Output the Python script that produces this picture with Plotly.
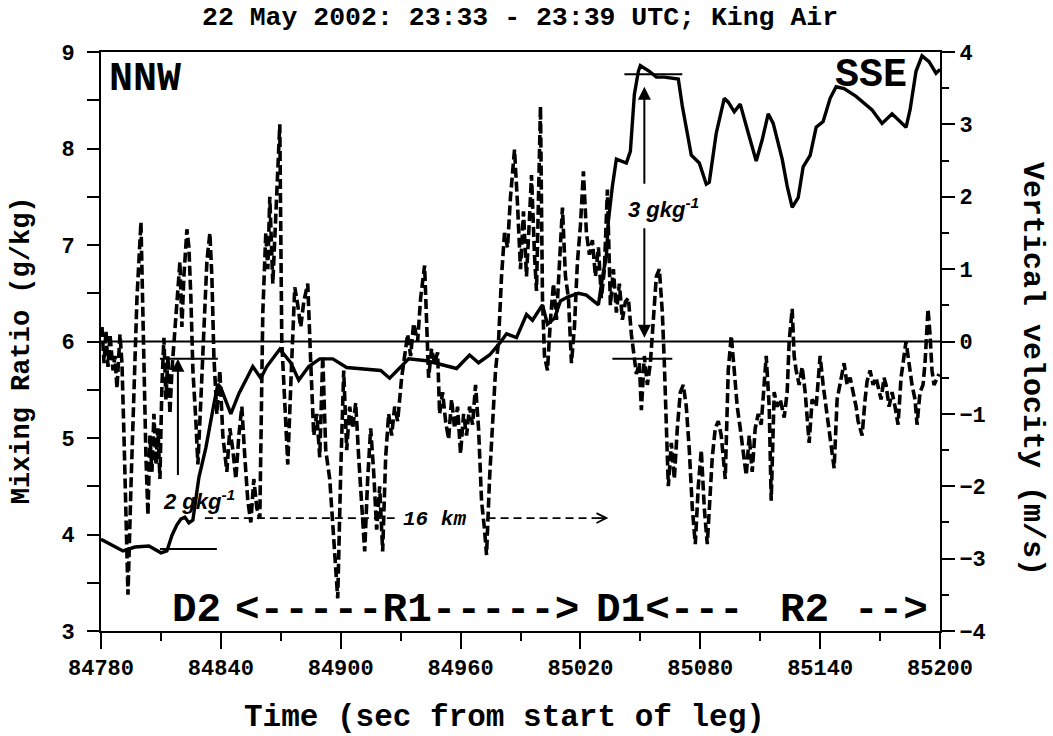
import plotly.graph_objects as go

# Mixing ratio (g/kg), solid line, left axis
time_mr = [84780, 84786, 84791, 84797, 84804, 84810, 84813, 84815.5, 84818, 84820,
           84822, 84824, 84826, 84829, 84832.5, 84836.5, 84838.5, 84840, 84845, 84849,
           84856, 84860, 84863, 84869.5, 84875, 84879, 84884, 84889.5, 84896, 84903,
           84913, 84920, 84924.5, 84934, 84943, 84950, 84958, 84964.5, 84969, 84974.5,
           84979.5, 84983, 84988, 84993, 84996, 85001, 85003.5, 85007, 85010, 85013.5,
           85019, 85023, 85029, 85031, 85033, 85034, 85036, 85038, 85043, 85045,
           85047, 85049, 85050, 85054.5, 85058, 85062, 85069, 85071, 85075.5, 85079.5,
           85083, 85084.5, 85088, 85092, 85094, 85097, 85100, 85104, 85108, 85111,
           85114, 85116.5, 85121, 85123.5, 85126, 85129, 85131.5, 85135, 85138, 85141.5,
           85145, 85148, 85152, 85158, 85166, 85171, 85176, 85183, 85185, 85188,
           85191, 85194.5, 85198, 85200]
mixing_ratio = [3.95, 3.88, 3.83, 3.87, 3.88, 3.81, 3.83, 3.99, 4.10, 4.16,
                4.18, 4.12, 4.15, 4.59, 4.90, 5.35, 5.56, 5.52, 5.25, 5.46,
                5.74, 5.62, 5.74, 5.92, 5.78, 5.60, 5.74, 5.82, 5.82, 5.73,
                5.71, 5.70, 5.62, 5.82, 5.80, 5.76, 5.72, 5.86, 5.78, 5.86,
                5.98, 6.08, 6.04, 6.28, 6.22, 6.38, 6.18, 6.24, 6.42, 6.46,
                6.50, 6.48, 6.38, 6.66, 6.89, 7.25, 7.61, 7.89, 7.85, 7.97,
                8.56, 8.80, 8.86, 8.80, 8.74, 8.74, 8.72, 8.44, 7.93, 7.85,
                7.63, 7.65, 8.16, 8.52, 8.48, 8.38, 8.46, 8.16, 7.87, 8.09,
                8.36, 8.26, 7.89, 7.61, 7.39, 7.49, 7.81, 7.93, 8.22, 8.28,
                8.52, 8.64, 8.62, 8.54, 8.40, 8.26, 8.36, 8.22, 8.40, 8.80,
                8.96, 8.90, 8.78, 8.82]

# Vertical velocity (m/s), dashed line, right axis
time_w = [84780.5, 84781.5, 84782.5, 84783.5, 84784.5, 84786, 84787, 84788, 84789.5, 84790.5,
          84791.5, 84792.5, 84793.5, 84795, 84796.5, 84798, 84800, 84801, 84802.5, 84803.5,
          84804.5, 84805.5, 84806.5, 84807.5, 84808.5, 84809.5, 84810.5, 84811.5, 84812.5, 84813.5,
          84814.5, 84815.5, 84817.5, 84819.5, 84820.5, 84821.5, 84823, 84824, 84825, 84826,
          84827.5, 84828.5, 84830, 84831.5, 84833, 84834.5, 84835.5, 84836.5, 84838, 84839.5,
          84841, 84843, 84844.5, 84846, 84847.5, 84849, 84850.5, 84852, 84853.5, 84855,
          84856.5, 84858, 84859.5, 84861, 84862.5, 84863.5, 84864.5, 84866, 84867.5, 84869.5,
          84870.5, 84872, 84873.5, 84875, 84877, 84878.5, 84880, 84881.5, 84883.5, 84885,
          84886.5, 84888, 84889.5, 84891, 84892.5, 84894.5, 84896.5, 84898.5, 84900, 84901.5,
          84903, 84904.5, 84906, 84907.5, 84909, 84910.5, 84912, 84913.5, 84915, 84916.5,
          84918, 84919.5, 84921, 84922.5, 84924, 84925.5, 84927, 84928.5, 84930.5, 84932.5,
          84933.5, 84935, 84936.5, 84938.5, 84940, 84942, 84943, 84944, 84945.5, 84947,
          84948.5, 84949.5, 84951, 84952.5, 84954, 84955.5, 84957, 84958.5, 84960, 84961.5,
          84963, 84964.5, 84966, 84967.5, 84969, 84970.5, 84972, 84973, 84974.5, 84976,
          84977.5, 84979, 84980.5, 84982, 84983.5, 84985, 84987, 84988.5, 84990, 84991.5,
          84993, 84994.5, 84995.5, 84997, 84998, 85000, 85001, 85002, 85003.5, 85005,
          85006.5, 85008, 85009.5, 85011, 85012.5, 85014, 85015.5, 85017, 85018.5, 85020,
          85021.5, 85023, 85024.5, 85026, 85027.5, 85029, 85030.5, 85032, 85033.5, 85035,
          85036.5, 85038, 85039.5, 85041, 85042.5, 85044, 85045.5, 85047, 85048, 85049.5,
          85050.5, 85052, 85053.5, 85055, 85056.5, 85058, 85059.5, 85061, 85062, 85063,
          85064, 85065.5, 85067, 85068.5, 85070, 85071.5, 85073, 85074.5, 85076, 85077.5,
          85079, 85080.5, 85082, 85083.5, 85085, 85086, 85087.5, 85089, 85090.5, 85092.5,
          85094, 85095.5, 85097, 85098.5, 85100, 85101.5, 85103, 85104.5, 85106, 85107.5,
          85109, 85110.5, 85112, 85113, 85114.5, 85115.5, 85117, 85118.5, 85120, 85122,
          85123.5, 85124.5, 85126, 85127, 85128, 85129.5, 85131, 85132.5, 85134.5, 85136,
          85138, 85140, 85141.5, 85143, 85144.5, 85146, 85147, 85148.5, 85150.5, 85152,
          85153.5, 85155, 85156.5, 85158, 85159, 85161, 85162.5, 85163.5, 85165, 85166.5,
          85168, 85169.5, 85170.5, 85172, 85173, 85174.5, 85176, 85177.5, 85179, 85180.5,
          85182, 85183, 85184.5, 85186, 85187.5, 85188.5, 85190, 85191.5, 85192.5, 85194,
          85195, 85196, 85197, 85198.5, 85199.5]
vertical_velocity = [0.2, -0.3, 0.15, -0.35, 0.1, -0.4, -0.2, -0.65, 0.1, -0.3,
                     -1.3, -2.2, -3.5, -2.0, -0.6, 0.6, 1.65, 0.2, -1.6, -2.4,
                     -1.3, -1.8, -1.0, -1.7, -1.2, -1.9, -0.6, 0.05, -0.8, -0.2,
                     -1.0, -0.4, 0.3, 1.1, 0.2, 0.9, 1.55, 1.3, 0.6, -0.4,
                     -1.1, -1.7, -0.8, 0.2, 1.1, 1.5, 0.9, -0.2, -1.0, -0.4,
                     -1.3, -1.8, -1.2, -1.5, -1.9, -1.3, -0.9, -1.6, -2.2, -2.5,
                     -1.9, -2.3, -2.45, 0.4, 1.5, 1.0, 2.0, 0.8, 1.8, 3.0,
                     0.0, -1.0, -1.7, -0.6, 0.75, 0.5, 0.2, 0.55, 0.8, -0.3,
                     -1.3, -1.0, -1.6, -0.2, -1.5, -1.9, -2.7, -3.55, -1.8, -0.4,
                     -1.5, -0.9, -1.2, -0.85, -1.6, -2.3, -2.9, -1.9, -1.2, -1.8,
                     -2.6, -2.0, -2.9, -1.6, -1.0, -1.3, -0.9, -1.1, -0.5, -0.1,
                     0.1, -0.2, 0.25, 0.0, 0.6, 1.05, 0.1, -0.5, -0.1, -0.3,
                     -0.15, -1.0, -0.7, -1.1, -1.35, -0.8, -1.2, -0.9, -1.55, -1.0,
                     -1.3, -0.9, -1.15, -0.6, -1.2, -2.2, -2.6, -2.95, -1.9, -1.2,
                     -0.4, 0.0, 0.9, 1.5, 1.3, 2.0, 2.65, 1.9, 1.0, 1.8,
                     0.9, 1.7, 2.3, 1.2, 0.7, 3.25, 0.6, -0.2, -0.4, 0.3,
                     0.8, 0.3, 1.2, 1.85, 0.9, 0.6, -0.3, 0.2, 1.1, 1.6,
                     2.35, 1.5, 1.2, 1.4, 0.9, 1.3, 0.6, 1.0, 2.1, 0.5,
                     1.0, 0.4, 0.8, 0.3, 0.55, 0.6, 0.1, -0.2, -0.45, -0.3,
                     -0.95, -0.2, -0.6, -0.3, 0.3, 0.9, 1.0, 0.4, -0.3, -1.2,
                     -2.0, -1.4, -1.9, -1.2, -0.7, -0.6, -0.9, -1.5, -2.3, -2.8,
                     -2.0, -1.5, -2.3, -2.8, -2.0, -1.6, -1.2, -1.1, -1.3, -1.9,
                     -0.4, 0.08, -0.4, -0.9, -1.2, -1.5, -1.85, -1.3, -1.8, -1.2,
                     -1.0, -1.15, -0.6, -0.2, -0.9, -2.2, -0.7, -0.9, -0.8, -1.05,
                     -0.7, 0.0, 0.45, -0.2, -0.4, -0.6, -0.35, -0.7, -1.4, -0.8,
                     -0.9, -0.2, -0.6, -0.9, -1.25, -1.5, -1.75, -0.8, -0.5, -0.3,
                     -0.6, -0.5, -0.7, -0.9, -1.1, -1.3, -0.8, -0.55, -0.4, -0.6,
                     -0.5, -0.7, -0.8, -0.5, -0.6, -0.9, -0.7, -0.9, -1.15, -0.5,
                     -0.2, 0.0, -0.3, -0.6, -0.8, -1.15, -0.7, -0.6, -0.3, 0.45,
                     0.1, -0.4, -0.6, -0.5, -0.45]

x_tick_values = [84780, 84840, 84900, 84960, 85020, 85080, 85140, 85200]
x_tick_labels = ["84780", "84840", "84900", "84960", "85020", "85080", "85140", "85200"]

MONO = "Liberation Mono"
SANS = "Liberation Sans"
INK = "black"

fig = go.Figure()
fig.add_trace(go.Scatter(
    x=time_w, y=vertical_velocity, yaxis="y2", mode="lines",
    line=dict(color=INK, width=3.6, dash="10px,4px"),
    showlegend=False, hoverinfo="skip"))
fig.add_trace(go.Scatter(
    x=time_mr, y=mixing_ratio, mode="lines",
    line=dict(color=INK, width=3.4),
    showlegend=False, hoverinfo="skip"))


def hline(x0, x1, y, width=2, dash="solid"):
    return dict(type="line", xref="x", yref="y", x0=x0, x1=x1, y0=y, y1=y,
                line=dict(color=INK, width=width, dash=dash))


shapes = [
    # zero-velocity / 6 g/kg reference line
    dict(type="line", xref="paper", yref="y", x0=0, x1=1, y0=6, y1=6,
         line=dict(color=INK, width=2)),
    # 2 g/kg bracket
    hline(84809.5, 84838.5, 5.82),
    hline(84809.5, 84838, 3.85),
    # 3 g/kg bracket
    hline(85042, 85071, 8.77),
    hline(85036, 85066, 5.82),
    # 16 km distance marker (dashed)
    hline(84832, 84927, 4.17, width=1.6, dash="8px,5px"),
    hline(84973.5, 85031, 4.17, width=1.6, dash="8px,5px"),
]


def arrow(x, y, ax, ay, head=2, size=1.3, width=2):
    return dict(x=x, y=y, ax=ax, ay=ay, xref="x", yref="y", axref="x", ayref="y",
                text="", showarrow=True, arrowhead=head, arrowsize=size,
                arrowwidth=width, arrowcolor=INK)


def label(text, x, y, size, family=MONO, weight="bold", style="normal",
          xref="x", yref="y", angle=0):
    return dict(text=text, x=x, y=y, xref=xref, yref=yref, showarrow=False,
                xanchor="center", yanchor="middle", textangle=angle,
                font=dict(family=family, size=size, color=INK, weight=weight, style=style))


annotations = [
    arrow(84818.5, 5.82, 84818.5, 4.60),
    arrow(85052, 8.64, 85052, 7.62),
    arrow(85052, 6.04, 85052, 7.19),
    arrow(85034, 4.17, 85028, 4.17, head=5, size=1.2, width=1.6),
    label("2 gkg<sup>-1</sup>", 84829, 4.36, 22, family=SANS, style="italic"),
    label("3 gkg<sup>-1</sup>", 85061.5, 7.38, 22, family=SANS, style="italic"),
    label("16 km", 84947, 4.16, 21, style="italic"),
    label("NNW", 84802, 8.71, 40),
    label("SSE", 85165.5, 8.76, 40),
    label("D2", 84828, 3.22, 41),
    label("<-----R1----->", 84933, 3.22, 41),
    label("D1<---", 85065, 3.22, 41),
    label("R2", 85132, 3.22, 41),
    label("-->", 85175.5, 3.22, 41),
    # titles
    label("22 May 2002: 23:33 - 23:39 UTC; King Air", 0.4994, 1.0587, 26.5,
          xref="paper", yref="paper"),
    label("Time (sec from start of leg)", 0.4815, -0.150, 31,
          xref="paper", yref="paper"),
    label("Mixing Ratio (g/kg)", -0.094, 0.485, 27,
          xref="paper", yref="paper", angle=-90),
    label("Vertical velocity (m/s)", 1.1097, 0.4525, 30,
          xref="paper", yref="paper", angle=90),
]

tick_font = dict(family=MONO, size=22, color=INK, weight="bold")

fig.update_layout(
    width=1053, height=736,
    margin=dict(l=101, r=113, t=52, b=105),
    paper_bgcolor="white", plot_bgcolor="white",
    showlegend=False,
    xaxis=dict(
        range=[84780, 85200], tickvals=x_tick_values, ticktext=x_tick_labels,
        ticks="outside", ticklen=16, tickwidth=2, tickcolor=INK,
        showline=True, linewidth=2, linecolor=INK, mirror=True,
        showgrid=False, zeroline=False, tickfont=tick_font, tickangle=0,
        minor=dict(dtick=30, tick0=84780, ticks="outside", ticklen=8,
                   tickwidth=2, tickcolor=INK, showgrid=False),
    ),
    yaxis=dict(
        range=[3, 9], dtick=1, tick0=3,
        ticks="outside", ticklen=12, tickwidth=2, tickcolor=INK,
        showline=True, linewidth=2, linecolor=INK,
        showgrid=False, zeroline=False, tickfont=tick_font,
        ticklabelstandoff=8,
        minor=dict(dtick=0.5, tick0=3, ticks="outside", ticklen=12,
                   tickwidth=2, tickcolor=INK, showgrid=False),
    ),
    yaxis2=dict(
        range=[-4, 4], dtick=1, tick0=-4, overlaying="y", side="right",
        ticks="outside", ticklen=13, tickwidth=2, tickcolor=INK,
        showline=True, linewidth=2, linecolor=INK,
        showgrid=False, zeroline=False, tickfont=tick_font,
        minor=dict(dtick=0.5, tick0=-4, ticks="outside", ticklen=7,
                   tickwidth=2, tickcolor=INK, showgrid=False),
    ),
    shapes=shapes,
    annotations=annotations,
)

fig.write_html("out.html")
